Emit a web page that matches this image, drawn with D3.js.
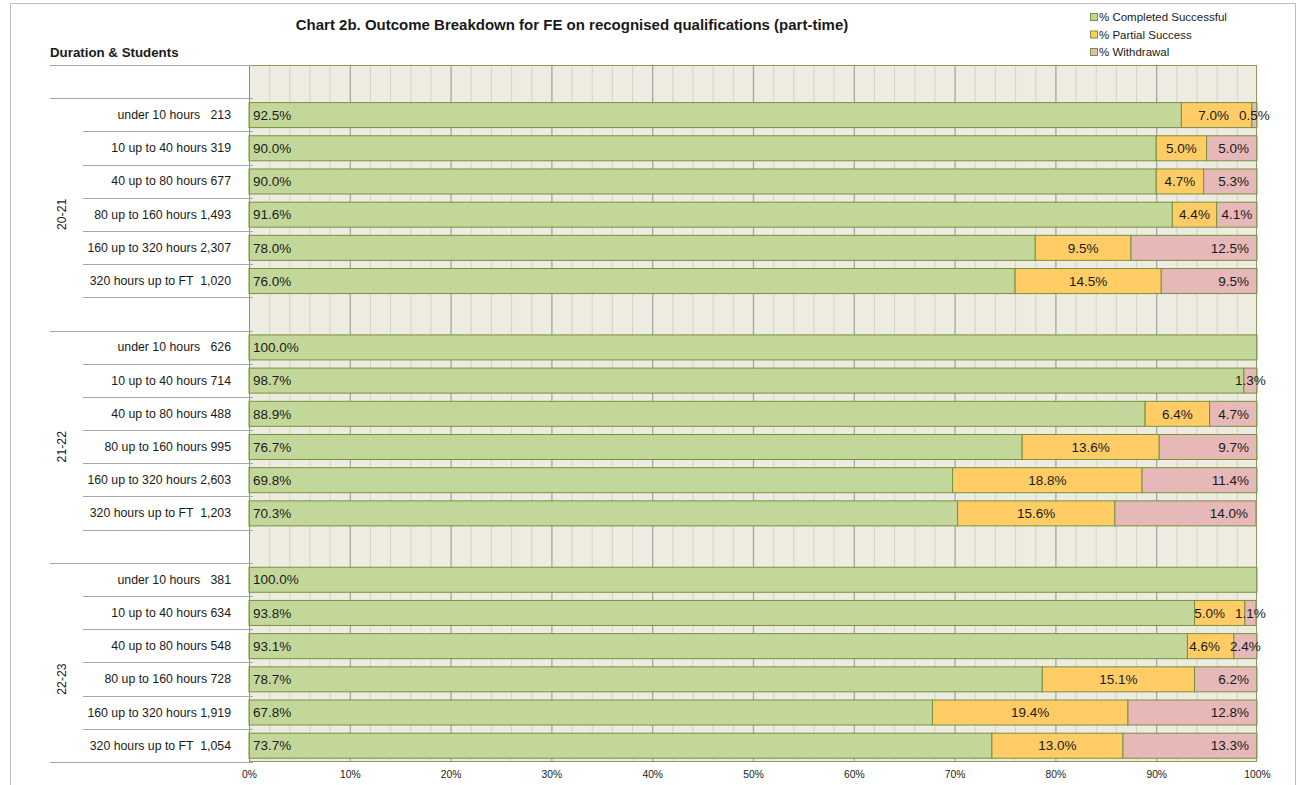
<!DOCTYPE html>
<html>
<head>
<meta charset="utf-8">
<script src="https://cdn.jsdelivr.net/npm/d3@7"></script>
<style>
  body { margin: 0; background: #fff; }
  svg text { font-family: "Liberation Sans", Arial, sans-serif; fill: #1a1a1a; }
</style>
</head>
<body>
<svg id="chart"></svg>
<script>
'use strict';

// data
const years = ['20-21', '21-22', '22-23'];
const durations = ['under 10 hours', '10 up to 40 hours', '40 up to 80 hours',
    '80 up to 160 hours', '160 up to 320 hours', '320 hours up to FT'];
const students = [213, 319, 677, 1493, 2307, 1020,
                  626, 714, 488, 995, 2603, 1203,
                  381, 634, 548, 728, 1919, 1054];
const completed = [92.5, 90.0, 90.0, 91.6, 78.0, 76.0,
                   100.0, 98.7, 88.9, 76.7, 69.8, 70.3,
                   100.0, 93.8, 93.1, 78.7, 67.8, 73.7];
const partial = [7.0, 5.0, 4.7, 4.4, 9.5, 14.5,
                 0, 0, 6.4, 13.6, 18.8, 15.6,
                 0, 5.0, 4.6, 15.1, 19.4, 13.0];
const withdrawal = [0.5, 5.0, 5.3, 4.1, 12.5, 9.5,
                    0, 1.3, 4.7, 9.7, 11.4, 14.0,
                    0, 1.1, 2.4, 6.2, 12.8, 13.3];
const seriesNames = ['% Completed Successful', '% Partial Success', '% Withdrawal'];
const seriesKeys = ['completed', 'partial', 'withdrawal'];
const seriesColors = ['#c4d79b', '#ffcc66', '#e6b8b7'];
const xTicks = [0, 10, 20, 30, 40, 50, 60, 70, 80, 90, 100];

const width = 1303, height = 785;
const plot = {left: 249, right: 1257, top: 65, bottom: 762};

const svg = d3.select('#chart')
    .attr('width', width)
    .attr('height', height);

// chart frame
svg.append('rect')
    .attr('x', 10.5).attr('y', 3.5)
    .attr('width', 1285).attr('height', 800)
    .attr('fill', '#fff')
    .attr('stroke', '#bfbfbf');

// rows: a blank row on top, then each year's six rows, blank rows between years
const rows = [{key: 'top', blank: true}];
years.forEach((year, yi) => {
    durations.forEach((dur, di) => {
        const i = yi * 6 + di;
        rows.push({
            key: year + '|' + dur, year, dur, yi, di,
            students: students[i],
            completed: completed[i], partial: partial[i], withdrawal: withdrawal[i]
        });
    });
    if (yi < years.length - 1) rows.push({key: 'gap' + yi, blank: true});
});
const dataRows = rows.filter(r => !r.blank);

const x = d3.scaleLinear().domain([0, 100]).range([plot.left, plot.right]);
const y = d3.scaleBand().domain(rows.map(r => r.key)).range([plot.top, plot.bottom]);
const step = y.step();

// plot background
svg.append('rect')
    .attr('x', plot.left).attr('y', plot.top)
    .attr('width', plot.right - plot.left).attr('height', plot.bottom - plot.top)
    .attr('fill', '#eeece1');

// minor grid every 2%
svg.append('g')
    .selectAll('line')
    .data(d3.range(2, 100, 2).filter(v => v % 10 !== 0))
    .join('line')
      .attr('x1', d => x(d) + 0.5).attr('x2', d => x(d) + 0.5)
      .attr('y1', plot.top).attr('y2', plot.bottom)
      .attr('stroke', '#d4d2c6');

// major grid every 10%
svg.append('g')
    .selectAll('line')
    .data(xTicks.filter(v => v > 0 && v < 100))
    .join('line')
      .attr('x1', d => x(d) + 0.5).attr('x2', d => x(d) + 0.5)
      .attr('y1', plot.top).attr('y2', plot.bottom)
      .attr('stroke', '#a6a6a6')
      .attr('stroke-width', 1.3);

// stacked bars
const stack = d3.stack().keys(seriesKeys);
const layers = stack(dataRows);

const barInset = 4.4, barH = 25;

svg.append('g')
    .selectAll('g')
    .data(layers)
    .join('g')
      .attr('fill', (d, i) => seriesColors[i])
    .selectAll('rect')
    .data(d => d.filter(p => p[1] > p[0]))
    .join('rect')
      .attr('x', d => x(d[0]))
      .attr('y', d => y(d.data.key) + barInset)
      .attr('width', d => x(Math.min(d[1], 100)) - x(d[0]))
      .attr('height', barH)
      .attr('stroke', '#76923c')
      .attr('stroke-width', 1);

// plot border
svg.append('rect')
    .attr('x', plot.left + 0.5).attr('y', plot.top + 0.5)
    .attr('width', plot.right - plot.left - 1).attr('height', plot.bottom - plot.top - 1)
    .attr('fill', 'none')
    .attr('stroke', '#8b9a5b');
svg.append('line')
    .attr('x1', plot.left + 0.5).attr('x2', plot.left + 0.5)
    .attr('y1', plot.top).attr('y2', plot.bottom)
    .attr('stroke', '#8c8c8c');

// data labels: completed at the base, partial centred, withdrawal at the end
const labelG = svg.append('g').attr('font-size', '13.5px');
const pinkLeft = {};
[2, 0, 1].forEach(li => {
    layers[li].forEach(p => {
        const v = p.data[seriesKeys[li]];
        if (!v) return;
        const x0 = x(p[0]), x1 = x(Math.min(p[1], 100));
        const cy = y(p.data.key) + barInset + barH / 2;
        const t = labelG.append('text')
            .attr('y', cy)
            .attr('dy', '0.35em')
            .text(v.toFixed(1) + '%');
        const w = t.node().getComputedTextLength();
        if (li === 0) {
            t.attr('x', x0 + 4).attr('text-anchor', 'start');
        } else if (li === 1) {
            let cx = (x0 + x1) / 2;
            const limit = pinkLeft[p.data.key];
            if (limit !== undefined && cx + w / 2 > limit - 10) cx = limit - 10 - w / 2;
            t.attr('x', cx).attr('text-anchor', 'middle');
        } else {
            if (w + 12 < x1 - x0) {
                t.attr('x', x1 - 8).attr('text-anchor', 'end');
                pinkLeft[p.data.key] = x1 - 8 - w;
            } else {
                t.attr('x', (x0 + x1) / 2).attr('text-anchor', 'middle');
                pinkLeft[p.data.key] = (x0 + x1) / 2 - w / 2;
            }
        }
    });
});

// category axis: separator lines
const lineG = svg.append('g').attr('stroke', '#a6a6a6');
const groupStarts = years.map(yr => y(yr + '|' + durations[0]));
const longYs = [plot.top].concat(groupStarts, [plot.bottom]);
lineG.selectAll('line.long')
    .data(longYs)
    .join('line')
      .attr('class', 'long')
      .attr('x1', 50).attr('x2', plot.left + 4)
      .attr('y1', d => Math.round(d) + 0.5).attr('y2', d => Math.round(d) + 0.5);
const shortYs = dataRows
    .filter(r => !(r.yi === years.length - 1 && r.di === 5))
    .map(r => y(r.key) + step);
lineG.selectAll('line.short')
    .data(shortYs)
    .join('line')
      .attr('class', 'short')
      .attr('x1', 83).attr('x2', plot.left + 4)
      .attr('y1', d => Math.round(d) + 0.5).attr('y2', d => Math.round(d) + 0.5);

// duration & student labels
const pad = {0: '   ', 5: '  '};
svg.append('g')
    .attr('font-size', '12.3px')
    .selectAll('text')
    .data(dataRows)
    .join('text')
      .attr('x', 231)
      .attr('y', d => y(d.key) + step / 2)
      .attr('dy', '0.35em')
      .attr('text-anchor', 'end')
      .style('white-space', 'pre')
      .text(d => d.dur + (pad[d.di] || ' ') + d3.format(',')(d.students));

// year labels
svg.append('g')
    .attr('font-size', '12.3px')
    .selectAll('text')
    .data(years)
    .join('text')
      .attr('text-anchor', 'middle')
      .attr('transform', (d, i) => `translate(66,${groupStarts[i] + 3.5 * step}) rotate(-90)`)
      .text(d => d);

// x axis
const xAxis = svg.append('g')
    .attr('transform', `translate(0,${plot.bottom})`)
    .call(d3.axisBottom(x).tickValues(xTicks).tickFormat(d => d + '%').tickSize(0).tickPadding(9));
xAxis.select('.domain').remove();
xAxis.selectAll('text')
    .attr('font-family', '"Liberation Sans", Arial, sans-serif')
    .attr('font-size', '10.3px')
    .attr('fill', '#1a1a1a');

// titles
svg.append('text')
    .attr('x', 572).attr('y', 30)
    .attr('text-anchor', 'middle')
    .attr('font-weight', 'bold')
    .attr('font-size', '15px')
    .text('Chart 2b. Outcome Breakdown for FE on recognised qualifications (part-time)');

svg.append('text')
    .attr('x', 50).attr('y', 57)
    .attr('font-weight', 'bold')
    .attr('font-size', '13.3px')
    .text('Duration & Students');

// legend
const legend = svg.append('g')
    .selectAll('g')
    .data(seriesNames)
    .join('g')
      .attr('transform', (d, i) => `translate(1090,${17 + i * 17.5})`);
legend.append('rect')
    .attr('x', 0.5).attr('y', -3.5)
    .attr('width', 7).attr('height', 7)
    .attr('fill', (d, i) => seriesColors[i])
    .attr('stroke', '#76923c');
legend.append('text')
    .attr('x', 9)
    .attr('dy', '0.35em')
    .attr('font-size', '11.5px')
    .text(d => d);
</script>
</body>
</html>
